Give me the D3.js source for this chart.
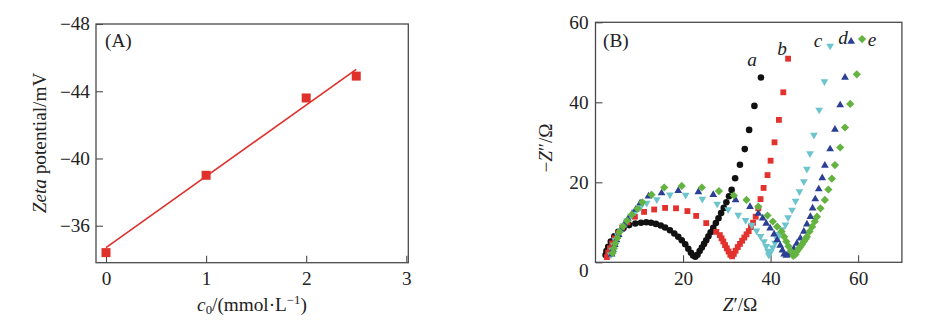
<!DOCTYPE html>
<html>
<head>
<meta charset="utf-8">
<script src="https://cdn.jsdelivr.net/npm/d3@7"></script>
<style>
  body { margin: 0; background: #fff; }
  svg text { font-family: "Liberation Serif", "Times New Roman", serif; fill: #222; }
</style>
</head>
<body>
<svg id="chart" width="929" height="326"></svg>
<script>
// ---- Panel A: zeta potential vs. concentration ----
const concentrations = [0, 1, 2, 2.5];
const zetaPotentials = [-34.4, -39.0, -43.6, -44.9];
const fitConc = [0, 2.5];
const fitZeta = [-34.7, -45.3];
const concTicks = [0, 1, 2, 3];
const zetaTicks = [-48, -44, -40, -36];

// ---- Panel B: Nyquist plots, pairs of [Z', -Z''] in ohm ----
const curveA = [[2.3,1.8],[2.5,2.8],[2.9,3.9],[3.5,5.2],[4.3,6.5],[5.2,7.6],[6.4,8.6],[7.7,9.3],[9.1,9.7],[10.4,9.9],[11.6,10.0],[12.7,9.9],[13.8,9.6],[14.9,9.2],[15.9,8.7],[17.0,8.0],[18.0,7.2],[18.9,6.4],[19.7,5.5],[20.5,4.5],[21.2,3.4],[21.8,2.4],[22.3,1.7],[22.8,1.4],[23.3,1.9],[23.8,2.8],[24.3,3.7],[24.8,4.6],[25.3,5.5],[25.8,6.5],[26.3,7.5],[26.9,8.6],[27.5,9.8],[28.1,11.0],[28.7,12.3],[29.3,13.6],[29.9,15.0],[30.5,16.5],[31.1,18.1],[31.9,21.0],[33.0,24.4],[34.1,28.3],[35.1,33.1],[36.3,39.1],[37.8,46.2]];
const curveB = [[2.6,1.3],[2.9,2.4],[3.3,3.5],[3.8,4.7],[4.4,6.0],[5.2,7.4],[6.1,8.7],[7.3,10.0],[9.0,11.4],[11.1,12.6],[13.4,13.2],[15.9,13.6],[18.4,13.5],[21.0,12.8],[23.0,11.6],[25.3,9.8],[27.6,7.6],[28.4,6.8],[28.8,6.0],[29.2,5.2],[29.6,4.3],[30.0,3.5],[30.4,2.7],[30.8,1.9],[31.2,1.5],[31.6,2.1],[32.0,2.9],[32.5,3.8],[33.0,4.6],[33.5,5.4],[34.0,6.2],[34.5,7.0],[35.0,7.8],[35.5,8.8],[36.0,9.9],[36.6,11.4],[37.2,13.5],[37.7,15.8],[38.4,18.6],[39.3,21.8],[40.0,25.4],[40.9,30.0],[41.9,35.6],[42.9,42.5],[44.0,50.9]];
const curveC = [[3.5,1.9],[3.8,3.1],[4.2,4.3],[4.6,5.5],[5.1,6.7],[5.7,8.0],[6.4,9.2],[7.2,10.4],[8.1,11.6],[9.1,12.7],[10.3,13.8],[11.7,14.8],[14.0,15.7],[17.0,16.9],[20.6,16.8],[24.4,15.8],[27.8,14.6],[30.3,13.2],[32.6,11.8],[34.3,10.5],[35.7,9.3],[36.8,7.9],[37.7,6.5],[38.5,5.2],[39.0,4.0],[39.4,2.8],[39.6,1.8],[40.0,2.6],[40.5,3.7],[41.0,4.8],[41.5,5.9],[42.0,7.0],[42.6,8.2],[43.4,9.4],[44.0,11.2],[44.9,13.1],[45.7,15.3],[46.6,17.7],[47.6,20.2],[48.3,23.3],[49.0,27.2],[49.9,31.8],[51.1,38.1],[52.3,45.2],[53.6,54.1]];
const curveD = [[3.7,2.0],[4.0,3.2],[4.4,4.4],[4.8,5.6],[5.3,6.9],[5.9,8.2],[6.6,9.5],[7.4,10.8],[8.3,12.0],[9.2,13.2],[10.2,14.8],[12.1,16.5],[15.1,17.3],[18.9,17.9],[23.5,17.6],[26.9,16.9],[32.0,15.6],[35.3,13.9],[37.2,12.2],[38.2,11.0],[39.0,9.7],[39.9,8.5],[40.8,7.0],[41.5,5.6],[42.2,4.2],[42.7,3.0],[43.1,2.0],[43.6,1.7],[44.1,1.9],[44.5,2.3],[45.3,3.4],[46.0,4.7],[46.8,6.0],[47.6,7.7],[48.3,9.5],[49.1,11.4],[49.6,13.5],[50.2,15.8],[51.0,18.3],[51.8,21.1],[52.4,24.2],[53.6,28.3],[54.7,33.2],[55.9,39.3],[57.0,46.2],[58.4,55.2]];
const curveE = [[3.9,2.3],[4.2,3.5],[4.5,4.7],[5.0,6.1],[5.5,7.6],[6.3,9.0],[7.2,10.4],[8.3,11.9],[9.6,13.4],[10.7,15.0],[12.8,16.9],[15.7,18.7],[19.7,19.1],[24.3,18.7],[28.2,17.8],[31.6,16.7],[34.5,15.6],[37.2,13.9],[39.3,11.7],[40.5,10.2],[41.5,8.9],[42.5,7.7],[43.1,6.4],[43.6,5.2],[44.1,4.0],[44.6,2.8],[45.2,1.6],[45.7,2.0],[46.0,2.7],[46.4,3.3],[46.8,3.9],[47.2,4.5],[47.6,5.2],[48.0,5.8],[48.3,6.4],[48.9,7.7],[49.5,8.9],[50.1,10.2],[50.6,11.4],[51.4,13.5],[52.4,15.6],[53.2,18.2],[54.0,20.9],[54.7,24.3],[55.9,28.7],[57.0,33.7],[58.2,39.6],[59.7,47.0],[60.9,55.8]];
const curveNames = ["a", "b", "c", "d", "e"];
const reTicks = [20, 40, 60];
const imTicks = [0, 20, 40, 60];

const svg = d3.select("#chart");
const frameColor = "#4a4a4a";
const fontSize = 18;
const widen = 1.07;   // slightly wide serif lettering

// Move a text's x/y into a transform so the glyphs can be widened about their anchor.
function widenText(sel) {
  sel.each(function () {
    const t = d3.select(this);
    const x = +t.attr("x") || 0, y = +t.attr("y") || 0;
    t.attr("x", 0).attr("y", 0).attr("transform", `translate(${x},${y}) scale(${widen},1)`);
  });
}

function styleAxis(g) {
  g.select(".domain").remove();
  g.selectAll(".tick line").attr("stroke", frameColor).attr("stroke-width", 1.1);
  g.selectAll(".tick text")
    .attr("font-size", fontSize)
    .attr("font-family", "Liberation Serif, Times New Roman, serif")
    .attr("fill", "#222");
}

function frame(x0, y0, x1, y1) {
  svg.append("rect")
    .attr("x", x0).attr("y", y0)
    .attr("width", x1 - x0).attr("height", y1 - y0)
    .attr("fill", "none").attr("stroke", frameColor).attr("stroke-width", 1.3);
}

function label(x, y, rotate) {
  return svg.append("text")
    .attr("transform", `translate(${x},${y})${rotate ? " rotate(-90)" : ""} scale(${widen},1)`)
    .attr("font-size", fontSize);
}

// ================= Panel A =================
const xA = d3.scaleLinear().domain([-0.1, 3.02]).range([96, 408.3]);
const yA = d3.scaleLinear().domain([-33.8, -48]).range([262.7, 24]);

svg.append("g")
  .attr("transform", `translate(0,${yA.range()[0]})`)
  .call(d3.axisBottom(xA).tickValues(concTicks).tickSize(-7).tickPadding(10).tickFormat(d3.format("d")))
  .call(styleAxis)
  .call(g => widenText(g.selectAll(".tick text")));

svg.append("g")
  .attr("transform", `translate(${xA.range()[0]},0)`)
  .call(d3.axisLeft(yA).tickValues(zetaTicks).tickSize(-7).tickPadding(6))
  .call(styleAxis)
  .call(g => widenText(g.selectAll(".tick text")));

frame(xA.range()[0], yA.range()[1], xA.range()[1], yA.range()[0]);

const red = "#e0302c";
svg.append("path")
  .datum(d3.zip(fitConc, fitZeta))
  .attr("d", d3.line().x(d => xA(d[0])).y(d => yA(d[1])))
  .attr("fill", "none").attr("stroke", red).attr("stroke-width", 1.6);

svg.append("g").selectAll("path")
  .data(d3.zip(concentrations, zetaPotentials))
  .join("path")
  .attr("transform", d => `translate(${xA(d[0])},${yA(d[1])})`)
  .attr("d", d3.symbol(d3.symbolSquare, 81))
  .attr("fill", red);

label(105, 47).text("(A)");

const yLabA = label(46, 143, true).attr("text-anchor", "middle");
yLabA.append("tspan").attr("font-style", "italic").text("Zeta");
yLabA.append("tspan").text(" potential/mV");

const xLabA = label(252, 311).attr("text-anchor", "middle");
xLabA.append("tspan").attr("font-style", "italic").text("c");
xLabA.append("tspan").attr("font-size", 12).attr("dy", 3).text("0");
xLabA.append("tspan").attr("dy", -3).text("/(mmol·L");
xLabA.append("tspan").attr("font-size", 12).attr("dy", -7).text("−1");
xLabA.append("tspan").attr("dy", 7).text(")");

// ================= Panel B =================
const xB = d3.scaleLinear().domain([0, 70]).range([595.5, 901.9]);
const yB = d3.scaleLinear().domain([0, 60]).range([262.3, 22.3]);

svg.append("g")
  .attr("transform", `translate(0,${yB.range()[0]})`)
  .call(d3.axisBottom(xB).tickValues(reTicks).tickSize(-7).tickPadding(10).tickFormat(d3.format("d")))
  .call(styleAxis)
  .call(g => widenText(g.selectAll(".tick text")));

const yAxisB = svg.append("g")
  .attr("transform", `translate(${xB.range()[0]},0)`)
  .call(d3.axisLeft(yB).tickValues(imTicks).tickSize(-7).tickPadding(7).tickFormat(d3.format("d")))
  .call(styleAxis);
yAxisB.selectAll(".tick text").filter(d => d === 0).attr("y", 8);
widenText(yAxisB.selectAll(".tick text"));

frame(xB.range()[0], yB.range()[1], xB.range()[1], yB.range()[0]);

const diamond = { draw(ctx, size) { const r = Math.sqrt(size / 2); ctx.moveTo(0, -r); ctx.lineTo(r, 0); ctx.lineTo(0, r); ctx.lineTo(-r, 0); ctx.closePath(); } };

const curves = [
  { name: curveNames[0], data: curveA, color: "#111111", symbol: d3.symbolCircle, size: 34, rotate: 0, lab: [-9, -17] },
  { name: curveNames[1], data: curveB, color: "#e3312d", symbol: d3.symbolSquare, size: 34, rotate: 0, lab: [-6, -9] },
  { name: curveNames[2], data: curveC, color: "#6cc4cd", symbol: d3.symbolTriangle, size: 26, rotate: 180, lab: [-12, -5] },
  { name: curveNames[3], data: curveD, color: "#2b3f95", symbol: d3.symbolTriangle, size: 26, rotate: 0, lab: [-8, -3] },
  { name: curveNames[4], data: curveE, color: "#64b340", symbol: diamond, size: 34, rotate: 0, lab: [10, 1] }
];

curves.forEach(c => {
  svg.append("g").selectAll("path")
    .data(c.data)
    .join("path")
    .attr("transform", d => `translate(${xB(d[0])},${yB(d[1])}) rotate(${c.rotate})`)
    .attr("d", d3.symbol(c.symbol, c.size))
    .attr("fill", c.color);
});

curves.forEach(c => {
  const last = c.data[c.data.length - 1];
  label(xB(last[0]) + c.lab[0], yB(last[1]) + c.lab[1])
    .attr("text-anchor", "middle")
    .attr("dy", "0.32em")
    .attr("font-style", "italic")
    .text(c.name);
});

label(603, 47).text("(B)");

const yLabB = label(552, 148, true).attr("text-anchor", "middle");
yLabB.append("tspan").text("−");
yLabB.append("tspan").attr("font-style", "italic").text("Z");
yLabB.append("tspan").text("″/Ω");

const xLabB = label(740, 311).attr("text-anchor", "middle");
xLabB.append("tspan").attr("font-style", "italic").text("Z");
xLabB.append("tspan").text("′/Ω");
</script>
</body>
</html>
